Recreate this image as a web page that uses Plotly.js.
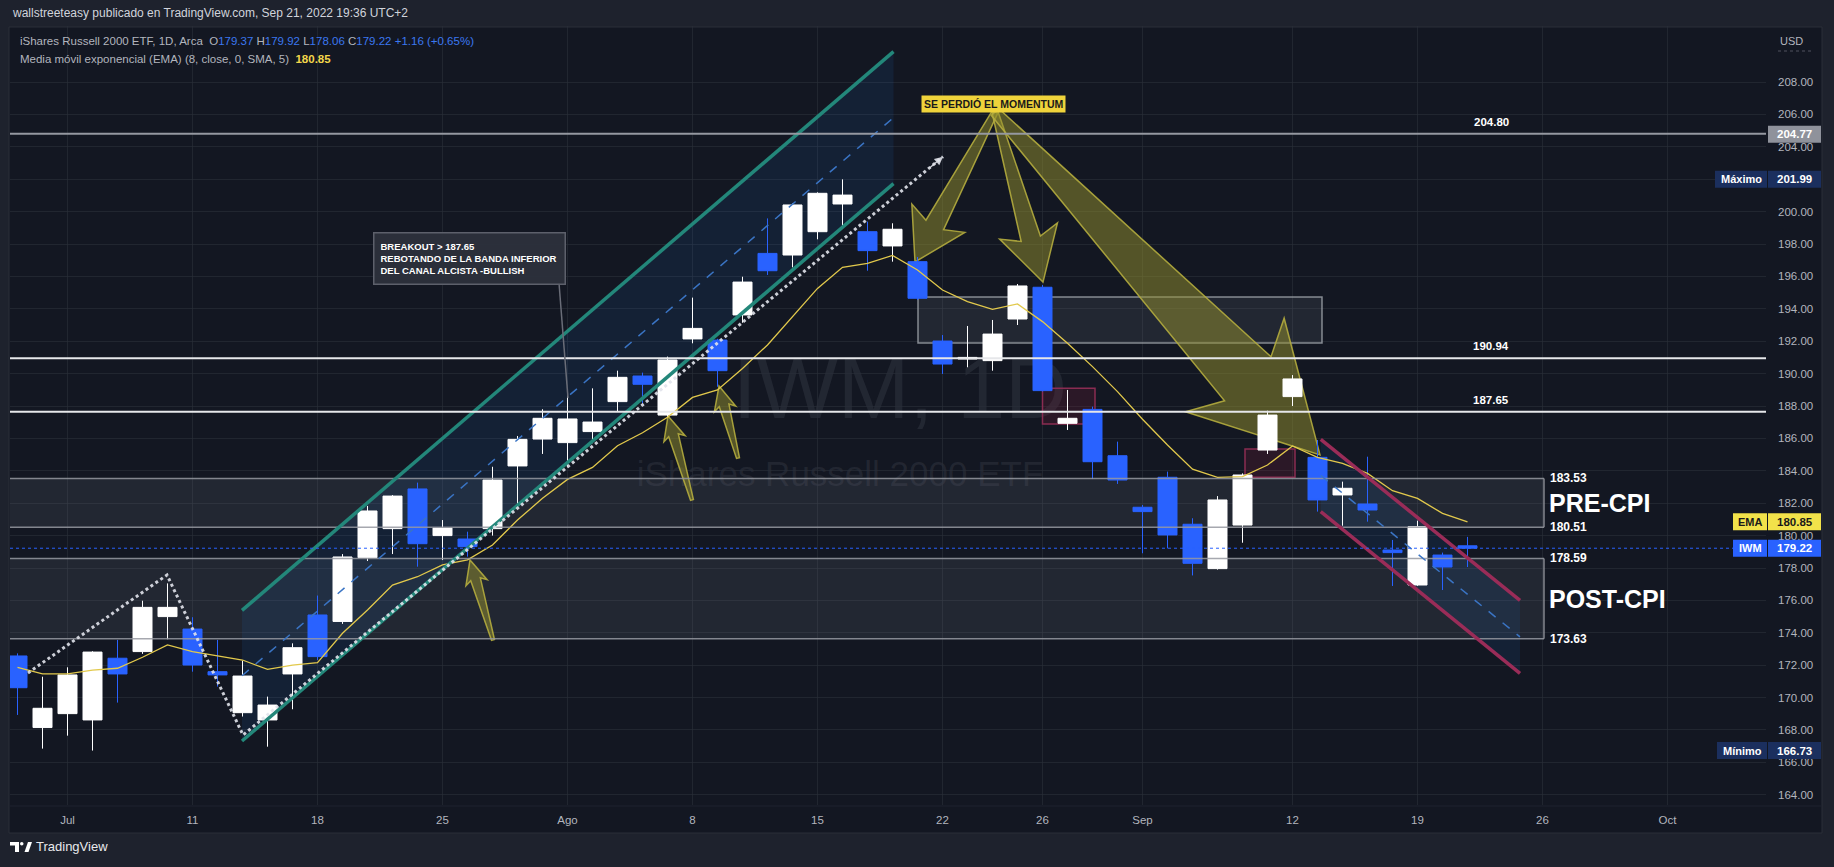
<!DOCTYPE html>
<html><head><meta charset="utf-8">
<script src="https://cdn.plot.ly/plotly-3.0.1.min.js"></script>
<style>html,body{margin:0;padding:0;background:#1e222d;overflow:hidden}#chart{width:1834px;height:867px}</style>
</head><body><div id="chart"></div>
<script>
// ---------- DATA ----------
const dates = ['2022-06-29','2022-06-30','2022-07-01','2022-07-05','2022-07-06','2022-07-07','2022-07-08',
'2022-07-11','2022-07-12','2022-07-13','2022-07-14','2022-07-15','2022-07-18','2022-07-19','2022-07-20','2022-07-21','2022-07-22',
'2022-07-25','2022-07-26','2022-07-27','2022-07-28','2022-07-29','2022-08-01','2022-08-02','2022-08-03','2022-08-04','2022-08-05',
'2022-08-08','2022-08-09','2022-08-10','2022-08-11','2022-08-12','2022-08-15','2022-08-16','2022-08-17','2022-08-18','2022-08-19',
'2022-08-22','2022-08-23','2022-08-24','2022-08-25','2022-08-26','2022-08-29','2022-08-30','2022-08-31','2022-09-01','2022-09-02',
'2022-09-06','2022-09-07','2022-09-08','2022-09-09','2022-09-12','2022-09-13','2022-09-14','2022-09-15','2022-09-16',
'2022-09-19','2022-09-20','2022-09-21'];
const futureDays = ['2022-09-22','2022-09-23','2022-09-26','2022-09-27','2022-09-28','2022-09-29','2022-09-30',
'2022-10-03','2022-10-04','2022-10-05','2022-10-06','2022-10-07','2022-10-10','2022-10-11'];
const openP  = [172.57,168.15,169.01,168.62,172.43,172.84,175.00,174.23,171.60,169.07,168.62,171.46,175.10,174.70,178.64,180.43,182.88,
180.00,179.79,180.43,184.30,185.96,185.74,186.42,188.27,189.85,187.44,192.14,192.07,193.62,197.42,197.32,198.76,200.47,198.76,197.88,196.91,
192.01,190.90,190.80,193.37,195.33,186.93,187.79,184.93,181.75,183.60,180.70,177.96,180.65,185.28,188.58,184.83,182.51,181.95,179.11,
176.95,178.80,179.37];
const highP  = [172.73,171.29,171.87,172.86,173.56,175.98,177.05,174.96,173.56,172.28,170.06,173.35,176.30,178.86,181.83,182.50,183.27,
180.96,180.24,184.25,186.15,187.80,189.00,189.09,190.18,190.06,191.05,194.69,192.15,195.98,199.58,200.51,201.19,201.99,199.38,199.28,197.20,
192.38,192.94,193.31,195.53,195.47,188.99,187.96,185.80,181.89,183.95,181.07,182.44,183.84,187.71,189.91,185.90,183.33,184.87,179.73,
180.92,178.95,179.92];
const lowP   = [168.93,166.85,167.65,166.73,169.69,172.70,173.60,171.60,170.68,168.83,166.97,169.28,172.32,174.55,178.43,178.86,178.08,
178.49,178.70,180.00,181.80,185.04,184.21,185.70,187.65,188.16,187.34,191.87,189.19,193.14,196.09,196.56,198.29,199.03,196.35,196.91,194.55,
189.98,190.39,190.18,193.00,188.90,186.52,183.49,183.19,178.91,179.21,177.54,177.90,179.56,185.04,188.00,181.48,180.61,180.86,176.89,
176.90,176.64,178.06];
const closeP = [170.61,169.34,171.40,172.81,171.46,175.57,175.57,172.01,171.40,171.33,169.54,173.08,172.53,178.68,181.52,182.44,179.50,
180.47,179.32,183.43,185.94,187.24,187.20,187.01,189.77,189.34,190.84,192.79,190.18,195.65,196.35,200.41,201.13,201.02,197.59,198.91,194.65,
190.59,191.00,192.44,195.41,188.95,187.24,184.56,183.43,181.48,180.04,178.29,182.20,183.74,187.44,189.67,182.20,182.92,181.58,178.95,
180.55,178.06,179.22];
const emaP   = [171.87,171.46,171.46,171.70,171.81,172.49,173.25,172.84,172.57,172.32,171.74,172.01,172.16,173.97,175.41,176.95,177.46,
178.19,178.50,179.42,180.96,182.30,183.47,184.21,185.55,186.35,187.30,188.53,188.99,190.32,191.77,193.51,195.26,196.56,196.81,197.30,196.40,
195.16,194.44,193.97,194.30,193.21,191.87,190.43,188.89,187.18,185.59,184.10,183.60,183.64,184.36,185.53,184.83,184.46,183.84,182.77,
182.30,181.37,180.85];
const tickDates  = ['2022-07-01','2022-07-11','2022-07-18','2022-07-25','2022-08-01','2022-08-08','2022-08-15','2022-08-22','2022-08-26',
'2022-09-01','2022-09-12','2022-09-19','2022-09-26','2022-10-03'];
const tickLabels = ['Jul','11','18','25','Ago','8','15','22','26','Sep','12','19','26','Oct'];
const priceTicks = [164,166,168,170,172,174,176,178,180,182,184,186,188,190,192,194,196,198,200,202,204,206,208];

// drawn levels / zones
const levelPrices = [204.80, 190.94, 187.65];
const levelColors = ['#9598a1', '#e6e7ea', '#e6e7ea'];
const zoneTop    = [183.53, 178.59];
const zoneBottom = [180.51, 173.63];
const zoneNames  = ['PRE-CPI', 'POST-CPI'];
const zoneEndX   = 61.06;
const grayBox = [36.02, 52.18, 191.89, 194.73];
const redBoxes = [[41.0, 43.1, 186.89, 189.09], [49.1, 51.1, 183.60, 185.35]];
// channels: [x0, x1], upper, lower, middle (price at x0, x1)
const upX = [8.98, 35.04], upUpper = [175.38, 209.88], upLower = [167.32, 201.73], upMid = [171.35, 205.80];
const dnX = [52.13, 60.10], dnUpper = [185.94, 176.00], dnLower = [181.48, 171.50], dnMid = [183.71, 173.75];
// dotted trend polyline
const dotX = [0.42, 5.98, 9.02, 37.02];
const dotY = [171.52, 177.57, 167.69, 203.39];
// yellow arrows: tail, tip (index, price); sizes px [tailHalf, baseHalf, headHalf, headLen]
const arrowTails = [[39.1,206.15],[39.1,206.15],[39.1,206.15],[19.02,173.56],[26.98,182.2],[28.82,184.79]];
const arrowTips  = [[35.9,196.89],[41.02,195.65],[52.1,184.98],[18.1,178.49],[26.02,187.38],[28.06,189.23]];
const arrowSizes = [[3,10,30,42],[3,10,30,45],[5,32,68,105],[1.5,5,11,20],[1.5,5,11,20],[1.5,5,11,20]];

// ---------- GEOMETRY ----------
const W = 1834, H = 867, ML = 10, MR = 68, MT = 26, MB = 62;
const plotW = W - ML - MR, plotH = H - MT - MB;
const xRange = [-0.3, 69.94], yRange = [163.37, 211.457];
const pxPerX = plotW / (xRange[1] - xRange[0]), pxPerY = plotH / (yRange[1] - yRange[0]);
const dx2px = i => ML + (i - xRange[0]) * pxPerX;
const dy2px = p => MT + (yRange[1] - p) * pxPerY;
const px2dx = x => xRange[0] + (x - ML) / pxPerX;
const px2dy = y => yRange[1] - (y - MT) / pxPerY;
const PX = x => (x - ML) / plotW;
const PY = y => (H - MB - y) / plotH;

const allDays = dates.concat(futureDays);
const idx = d => allDays.indexOf(d);
const xIdx = dates.map(idx);

const FONT = 'Liberation Sans, Arial, sans-serif';
const NARROW = 'Liberation Sans Narrow, Arial Narrow, Liberation Sans, sans-serif';

function arrowPath(t, h, s) {
  const tx = dx2px(t[0]), ty = dy2px(t[1]), hx = dx2px(h[0]), hy = dy2px(h[1]);
  const L = Math.hypot(hx - tx, hy - ty), ux = (hx - tx) / L, uy = (hy - ty) / L, nx = -uy, ny = ux;
  const bx = hx - ux * s[3], by = hy - uy * s[3];
  const sw = s[3] * 0.18;
  const pts = [[tx + nx * s[0], ty + ny * s[0]], [bx + nx * s[1], by + ny * s[1]], [bx - ux * sw + nx * s[2], by - uy * sw + ny * s[2]], [hx, hy],
    [bx - ux * sw - nx * s[2], by - uy * sw - ny * s[2]], [bx - nx * s[1], by - ny * s[1]], [tx - nx * s[0], ty - ny * s[0]]];
  return 'M' + pts.map(p => px2dx(p[0]).toFixed(3) + ',' + px2dy(p[1]).toFixed(3)).join(' L') + ' Z';
}

const shapes = [];
const ann = [];
// pane background
shapes.push({type:'rect', xref:'paper', yref:'paper', x0:PX(9), x1:PX(1822), y0:PY(833), y1:PY(27), fillcolor:'#131722', line:{color:'#2a2e39', width:1}, layer:'below'});
shapes.push({type:'line', xref:'paper', yref:'paper', x0:PX(9), x1:PX(1822), y0:PY(806), y1:PY(806), line:{color:'#1f232e', width:1}, layer:'below'});
// watermark
shapes.push({type:'rect', xref:'paper', yref:'paper', x0:PX(650), x1:PX(1150), y0:PY(430), y1:PY(330), line:{width:0}, fillcolor:'rgba(0,0,0,0)', layer:'below',
  label:{text:'IWM, 1D', textposition:'middle center', font:{size:86, color:'rgba(120,123,134,0.16)', family:FONT}}});
shapes.push({type:'rect', xref:'paper', yref:'paper', x0:PX(600), x1:PX(1080), y0:PY(490), y1:PY(450), line:{width:0}, fillcolor:'rgba(0,0,0,0)', layer:'below',
  label:{text:'iShares Russell 2000 ETF', textposition:'middle center', font:{size:35, color:'rgba(120,123,134,0.16)', family:FONT}}});

// zones
zoneNames.forEach((n, k) => {
  shapes.push({type:'rect', xref:'x', yref:'y', x0:-1, x1:zoneEndX, y0:zoneBottom[k], y1:zoneTop[k], fillcolor:'rgba(120,123,134,0.16)', line:{width:0}, layer:'between'});
  [zoneTop[k], zoneBottom[k]].forEach(v => {
    shapes.push({type:'line', xref:'x', yref:'y', x0:-1, x1:zoneEndX, y0:v, y1:v, line:{color:'rgba(150,153,161,0.85)', width:1.5}, layer:'above'});
    ann.push({xref:'x', yref:'y', x:zoneEndX + 0.16, y:v, xanchor:'left', yanchor:'middle', showarrow:false, text:'<b>' + v.toFixed(2) + '</b>', font:{size:12, color:'#ffffff', family:FONT}});
  });
  shapes.push({type:'line', xref:'x', yref:'y', x0:zoneEndX, x1:zoneEndX, y0:zoneBottom[k], y1:zoneTop[k], line:{color:'rgba(150,153,161,0.85)', width:1.5}, layer:'above'});
  ann.push({xref:'x', yref:'y', x:zoneEndX + 0.1, y:(zoneTop[k] + zoneBottom[k]) / 2, xanchor:'left', yanchor:'middle', showarrow:false, text:'<b>' + n + '</b>', font:{size:25, color:'#ffffff', family:FONT}});
});
// gray box + red boxes
shapes.push({type:'rect', xref:'x', yref:'y', x0:grayBox[0], x1:grayBox[1], y0:grayBox[2], y1:grayBox[3], fillcolor:'rgba(120,123,134,0.16)', line:{color:'rgba(170,173,180,0.75)', width:1.5}, layer:'between'});
redBoxes.forEach(b => shapes.push({type:'rect', xref:'x', yref:'y', x0:b[0], x1:b[1], y0:b[2], y1:b[3], fillcolor:'rgba(130,30,60,0.22)', line:{color:'#8a2c52', width:1.5}, layer:'between'}));
// channels
function channel(X, up, lo, mid, lineColor) {
  shapes.push({type:'path', xref:'x', yref:'y', path:`M${X[0]},${up[0]} L${X[1]},${up[1]} L${X[1]},${lo[1]} L${X[0]},${lo[0]} Z`, fillcolor:'rgba(33,110,200,0.12)', line:{width:0}, layer:'between'});
  shapes.push({type:'line', xref:'x', yref:'y', x0:X[0], x1:X[1], y0:mid[0], y1:mid[1], line:{color:'#3a74c4', width:1.5, dash:'dash'}, layer:'above'});
  shapes.push({type:'line', xref:'x', yref:'y', x0:X[0], x1:X[1], y0:up[0], y1:up[1], line:{color:lineColor, width:3.5}, layer:'above'});
  shapes.push({type:'line', xref:'x', yref:'y', x0:X[0], x1:X[1], y0:lo[0], y1:lo[1], line:{color:lineColor, width:3.5}, layer:'above'});
}
channel(upX, upUpper, upLower, upMid, '#23877a');
channel(dnX, dnUpper, dnLower, dnMid, '#9a2c58');
// yellow arrows (drawn under the candles)
arrowTails.forEach((t, k) => shapes.push({type:'path', xref:'x', yref:'y', path:arrowPath(t, arrowTips[k], arrowSizes[k]), fillcolor:'rgba(150,145,45,0.5)', line:{color:'rgba(180,172,62,0.9)', width:1.5}, layer:'between'}));
// horizontal levels
levelPrices.forEach((v, k) => {
  shapes.push({type:'line', xref:'paper', yref:'y', x0:0, x1:1, y0:v, y1:v, line:{color:levelColors[k], width:2}, layer:'above'});
  ann.push({xref:'x', yref:'y', x:58.94, y:v, yshift:4, xanchor:'center', yanchor:'bottom', showarrow:false, text:'<b>' + v.toFixed(2) + '</b>', font:{size:11.5, color:'#ffffff', family:FONT}});
});
// current price line
shapes.push({type:'line', xref:'paper', yref:'y', x0:0, x1:1, y0:closeP[closeP.length-1], y1:closeP[closeP.length-1], line:{color:'#2962ff', width:1, dash:'dot'}, layer:'above'});
// dotted trend polyline
shapes.push({type:'path', xref:'x', yref:'y', path:'M' + dotX.map((v, k) => v + ',' + dotY[k]).join(' L'), line:{color:'rgba(225,227,235,0.9)', width:3, dash:'dot'}, layer:'above'});
ann.push({xref:'x', yref:'y', axref:'x', ayref:'y', x:dotX[3], y:dotY[3], ax:dotX[3] - 0.6, ay:dotY[3] - 0.78, showarrow:true, arrowhead:2, arrowsize:1.2, arrowwidth:1.4, arrowcolor:'rgba(225,227,235,0.9)', text:''});

// breakout box
ann.push({xref:'paper', yref:'paper', x:PX(373), y:PY(232), xanchor:'left', yanchor:'top', showarrow:false, align:'left',
  text:'<b>BREAKOUT &gt; 187.65<br>REBOTANDO DE LA BANDA INFERIOR<br>DEL CANAL ALCISTA -BULLISH</b>', font:{size:9.5, color:'#ffffff', family:NARROW},
  bgcolor:'rgba(44,48,60,0.95)', bordercolor:'#5d606b', borderwidth:1.5, borderpad:6, width:178, height:38});
shapes.push({type:'line', xref:'paper', yref:'paper', x0:PX(559), x1:PX(568), y0:PY(283), y1:PY(398), line:{color:'#6a6d78', width:1.5}, layer:'above'});
// momentum label
ann.push({xref:'x', yref:'y', x:39.02, y:206.64, xanchor:'center', yanchor:'middle', showarrow:false, text:'<b>SE PERDIÓ EL MOMENTUM</b>',
  font:{size:10.5, color:'#1a1a1a', family:NARROW}, bgcolor:'#efd33b', borderpad:2});

// header texts
ann.push({xref:'paper', yref:'paper', x:PX(10), y:PY(13), xanchor:'left', yanchor:'middle', showarrow:false, text:'wallstreeteasy publicado en TradingView.com, Sep 21, 2022 19:36 UTC+2', font:{size:12, color:'#d1d4dc', family:FONT}});
const blue = s => '<span style="color:#3b78f0">' + s + '</span>';
ann.push({xref:'paper', yref:'paper', x:PX(18), y:PY(41), xanchor:'left', yanchor:'middle', showarrow:false,
  text:'iShares Russell 2000 ETF, 1D, Arca  O' + blue(openP[58].toFixed(2)) + ' H' + blue(highP[58].toFixed(2)) + ' L' + blue(lowP[58].toFixed(2)) + ' C' + blue(closeP[58].toFixed(2)) + ' ' + blue('+1.16 (+0.65%)'),
  font:{size:11.5, color:'#b2b5be', family:FONT}});
ann.push({xref:'paper', yref:'paper', x:PX(18), y:PY(59), xanchor:'left', yanchor:'middle', showarrow:false,
  text:'Media móvil exponencial (EMA) (8, close, 0, SMA, 5)  <span style="color:#f2d64b"><b>' + emaP[58].toFixed(2) + '</b></span>',
  font:{size:11.5, color:'#b2b5be', family:FONT}});
// USD
ann.push({xref:'paper', yref:'paper', x:PX(1778), y:PY(41), xanchor:'left', yanchor:'middle', showarrow:false, text:'USD', font:{size:11, color:'#b2b5be', family:FONT}});
shapes.push({type:'line', xref:'paper', yref:'paper', x0:PX(1778), x1:PX(1813), y0:PY(51), y1:PY(51), line:{color:'#50535e', width:1, dash:'dot'}});

// axis badges
function badge(price, label, value, bg, fg, leftPx) {
  const hh = 8.5 / pxPerY;
  shapes.push({type:'rect', xref:'paper', yref:'y', x0:PX(1768), x1:PX(1821), y0:price - hh, y1:price + hh, fillcolor:bg, line:{width:0}, layer:'above'});
  ann.push({xref:'paper', yref:'y', x:PX(1794.5), y:price, xanchor:'center', yanchor:'middle', showarrow:false, text:'<b>' + value + '</b>', font:{size:11.5, color:fg, family:FONT}});
  if (label) {
    shapes.push({type:'rect', xref:'paper', yref:'y', x0:PX(leftPx), x1:PX(1767), y0:price - hh, y1:price + hh, fillcolor:bg, line:{width:0}, layer:'above'});
    shapes.push({type:'line', xref:'paper', yref:'y', x0:PX(1767.5), x1:PX(1767.5), y0:price - hh, y1:price + hh, line:{color:'rgba(19,23,34,0.6)', width:1}, layer:'above'});
    ann.push({xref:'paper', yref:'y', x:PX((leftPx + 1767) / 2), y:price, xanchor:'center', yanchor:'middle', showarrow:false, text:'<b>' + label + '</b>', font:{size:11, color:fg, family:FONT}});
  }
}
badge(204.77, null, '204.77', '#8f929b', '#ffffff', 0);
badge(Math.max(...highP), 'Máximo', Math.max(...highP).toFixed(2), '#1b2f5e', '#ffffff', 1715);
badge(emaP[58], 'EMA', emaP[58].toFixed(2), '#f2e24a', '#1a1a1a', 1733);
badge(closeP[58], 'IWM', closeP[58].toFixed(2), '#2962ff', '#ffffff', 1733);
badge(Math.min(...lowP), 'Mínimo', Math.min(...lowP).toFixed(2), '#1b2f5e', '#ffffff', 1717);

// TradingView footer
shapes.push({type:'path', xref:'paper', yref:'paper', path:`M${PX(10)},${PY(842)} L${PX(19)},${PY(842)} L${PX(19)},${PY(852)} L${PX(15)},${PY(852)} L${PX(15)},${PY(845.5)} L${PX(10)},${PY(845.5)} Z`, fillcolor:'#ffffff', line:{width:0}});
shapes.push({type:'circle', xref:'paper', yref:'paper', x0:PX(20), x1:PX(23.5), y0:PY(842), y1:PY(845.5), fillcolor:'#ffffff', line:{width:0}});
shapes.push({type:'path', xref:'paper', yref:'paper', path:`M${PX(24.5)},${PY(852)} L${PX(28)},${PY(842)} L${PX(32)},${PY(842)} L${PX(28.5)},${PY(852)} Z`, fillcolor:'#ffffff', line:{width:0}});
ann.push({xref:'paper', yref:'paper', x:PX(34), y:PY(847), xanchor:'left', yanchor:'middle', showarrow:false, text:'TradingView', font:{size:13, color:'#e8e9ec', family:FONT}});

// ---------- TRACES ----------
const traces = [
  {type:'candlestick', x:xIdx, open:openP, high:highP, low:lowP, close:closeP, whiskerwidth:0,
   increasing:{line:{color:'#ffffff', width:1}, fillcolor:'#ffffff'},
   decreasing:{line:{color:'#2962ff', width:1}, fillcolor:'#2962ff'}, hoverinfo:'skip', showlegend:false},
  {type:'scatter', mode:'lines', x:xIdx, y:emaP, line:{color:'#e2c94c', width:1.3}, hoverinfo:'skip', showlegend:false}
];

const layout = {
  width:W, height:H, margin:{l:ML, r:MR, t:MT, b:MB, pad:0},
  paper_bgcolor:'#1e222d', plot_bgcolor:'rgba(0,0,0,0)',
  showlegend:false, hovermode:false, dragmode:false,
  boxgap:0.24, boxgroupgap:0,
  font:{family:FONT, color:'#b2b5be'},
  xaxis:{type:'linear', range:xRange, tickvals:tickDates.map(idx), ticktext:tickLabels, showgrid:true, gridcolor:'rgba(42,46,57,0.65)', gridwidth:1,
    zeroline:false, showline:false, ticks:'', ticklabelstandoff:6, tickfont:{size:11.5, color:'#b2b5be', family:FONT}, rangeslider:{visible:false}, fixedrange:true},
  yaxis:{side:'right', range:yRange, tickvals:priceTicks, ticktext:priceTicks.map(v => v.toFixed(2)), showgrid:true, gridcolor:'rgba(42,46,57,0.65)', gridwidth:1,
    zeroline:false, showline:false, ticks:'', ticklabelstandoff:11, tickfont:{size:11.5, color:'#b2b5be', family:FONT}, fixedrange:true},
  shapes:shapes, annotations:ann
};
Plotly.newPlot('chart', traces, layout, {displayModeBar:false, staticPlot:true});
</script></body></html>
